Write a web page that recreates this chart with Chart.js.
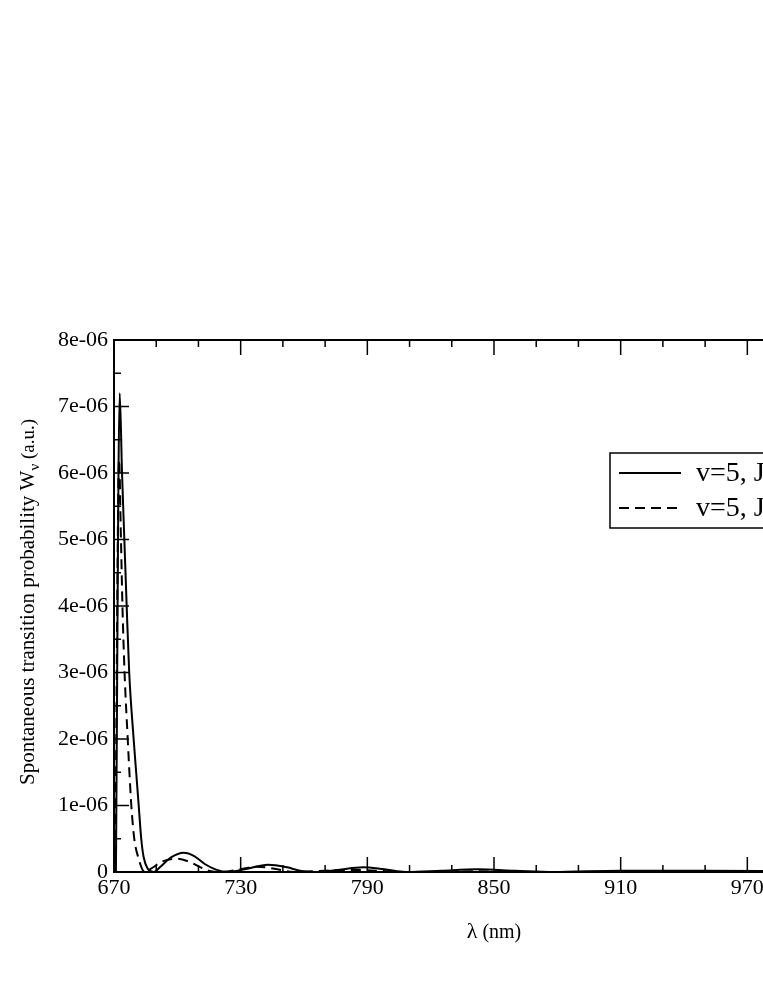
<!doctype html>
<html lang="en">
<head>
<meta charset="utf-8">
<title>Spontaneous transition probability</title>
<script src="https://cdn.jsdelivr.net/npm/chart.js@4.4.0/dist/chart.umd.min.js"></script>
<style>
  html, body { margin: 0; padding: 0; background: #fff; overflow: hidden; }
  canvas { display: block; }
</style>
</head>
<body>
<canvas id="c" width="960" height="987"></canvas>
<script>
// values (W in a.u.)
const lambdaSolid = [670.9, 672.7, 673.8, 674.9, 676.0, 677.2, 679.3, 680.5, 681.7, 682.9, 684.0, 686.0, 688.8,
  692, 697, 703, 708, 713, 718, 724, 732, 743, 752, 758, 765, 776, 788, 798, 809, 825, 842, 860, 878, 910, 950, 990, 1030];
const wSolid = [0, 7.2e-6, 6.0e-6, 5.0e-6, 4.0e-6, 3.0e-6, 2.0e-6, 1.5e-6, 1.0e-6, 0.5e-6, 0.23e-6, 0.05e-6, 0,
  0.08e-6, 0.22e-6, 0.29e-6, 0.24e-6, 0.12e-6, 0.04e-6, 0, 0.04e-6, 0.11e-6, 0.07e-6, 0.02e-6, 0, 0.03e-6, 0.07e-6, 0.04e-6, 0,
  0.02e-6, 0.04e-6, 0.02e-6, 0, 0.02e-6, 0.02e-6, 0.01e-6, 0];

const lambdaDashed = [670.6, 672.4, 673.3, 674.0, 675.0, 676.5, 677.3, 678.2, 679.6, 681.4, 684.5,
  688, 693, 700, 706, 711, 716, 720, 728, 738, 746, 755, 770, 785, 800, 815, 840, 870, 1030];
const wDashed = [0, 6.2e-6, 5.0e-6, 4.0e-6, 3.0e-6, 2.0e-6, 1.5e-6, 1.0e-6, 0.5e-6, 0.23e-6, 0,
  0.06e-6, 0.16e-6, 0.20e-6, 0.15e-6, 0.07e-6, 0.01e-6, 0, 0.03e-6, 0.08e-6, 0.05e-6, 0, 0.02e-6, 0.03e-6, 0.01e-6, 0, 0.01e-6, 0, 0];

const seriesLabels = ['v=5, J=0', 'v=5, J=1'];
const xTickValues = [670, 730, 790, 850, 910, 970, 1030];
const yTickValues = [0, 1e-6, 2e-6, 3e-6, 4e-6, 5e-6, 6e-6, 7e-6, 8e-6];
const xTitle = ['\u03bb', ' (nm)'];
const yTitle = ['Spontaneous transition probability W', '\u03bd', ' (a.u.)'];

const SERIF = '"Liberation Serif", "DejaVu Serif", serif';

function fmtExp(v) {
  if (v === 0) return '0';
  const parts = v.toExponential(0).split('e');
  const e = parseInt(parts[1], 10);
  return parts[0] + 'e' + (e < 0 ? '-' : '+') + String(Math.abs(e)).padStart(2, '0');
}

function pts(xs, ys) { return xs.map((x, i) => ({ x, y: ys[i] })); }

const frame = {
  id: 'frame',
  afterDraw(chart) {
    const { ctx, chartArea: a, scales: { x, y } } = chart;
    ctx.save();
    ctx.strokeStyle = '#000';
    ctx.fillStyle = '#000';

    // inward ticks on all four sides
    ctx.lineWidth = 1.5;
    const seg = (x1, y1, x2, y2) => { ctx.beginPath(); ctx.moveTo(x1, y1); ctx.lineTo(x2, y2); ctx.stroke(); };
    for (let v = 670; v <= 1030; v += 20) {
      const px = x.getPixelForValue(v);
      const len = (v - 670) % 60 === 0 ? 15 : 7;
      seg(px, a.bottom, px, a.bottom - len);
      seg(px, a.top, px, a.top + len);
    }
    for (let i = 0; i <= 16; i++) {
      const py = y.getPixelForValue(i * 0.5e-6);
      const len = i % 2 === 0 ? 15 : 7;
      seg(a.left, py, a.left + len, py);
      seg(a.right, py, a.right - len, py);
    }
    ctx.lineWidth = 2;
    ctx.strokeRect(a.left, a.top, a.right - a.left, a.bottom - a.top);

    // x title
    ctx.textBaseline = 'alphabetic';
    ctx.font = '22px ' + SERIF;
    const w1 = ctx.measureText(xTitle[0]).width;
    ctx.font = '20px ' + SERIF;
    const w2 = ctx.measureText(xTitle[1]).width;
    const cx = (a.left + a.right) / 2;
    let tx = cx - (w1 + w2) / 2;
    ctx.textAlign = 'left';
    ctx.font = '22px ' + SERIF;
    ctx.fillText(xTitle[0], tx, 938);
    ctx.font = '20px ' + SERIF;
    ctx.fillText(xTitle[1], tx + w1, 938);

    // y title, rotated
    ctx.save();
    ctx.translate(34, (a.top + a.bottom) / 2 - 4);
    ctx.rotate(-Math.PI / 2);
    ctx.font = '21px ' + SERIF;
    const m1 = ctx.measureText(yTitle[0]).width;
    ctx.font = '15px ' + SERIF;
    const m2 = ctx.measureText(yTitle[1]).width;
    ctx.font = '19px ' + SERIF;
    const m3 = ctx.measureText(yTitle[2]).width;
    let ty = -(m1 + m2 + m3) / 2;
    ctx.font = '21px ' + SERIF;
    ctx.fillText(yTitle[0], ty, 0);
    ctx.font = '15px ' + SERIF;
    ctx.fillText(yTitle[1], ty + m1, 5);
    ctx.font = '19px ' + SERIF;
    ctx.fillText(yTitle[2], ty + m1 + m2, 0);
    ctx.restore();

    // legend
    const lx = 610, ly = 453, lw = 250, lh = 75;
    ctx.fillStyle = '#fff';
    ctx.fillRect(lx, ly, lw, lh);
    ctx.lineWidth = 1.5;
    ctx.strokeRect(lx, ly, lw, lh);
    ctx.fillStyle = '#000';
    ctx.font = '28px ' + SERIF;
    ctx.textBaseline = 'middle';
    chart.data.datasets.forEach((ds, i) => {
      const rowY = ly + 20 + i * 35;
      ctx.lineWidth = 2;
      ctx.setLineDash(ds.borderDash || []);
      seg(619, rowY, 681, rowY);
      ctx.setLineDash([]);
      ctx.fillText(ds.label, 696, rowY + 1);
    });
    ctx.restore();
  }
};

new Chart(document.getElementById('c'), {
  type: 'line',
  data: {
    datasets: [
      { label: seriesLabels[0], data: pts(lambdaSolid, wSolid), borderColor: '#000', borderWidth: 2,
        pointRadius: 0, cubicInterpolationMode: 'monotone', fill: false },
      { label: seriesLabels[1], data: pts(lambdaDashed, wDashed), borderColor: '#000', borderWidth: 2,
        borderDash: [10, 6], pointRadius: 0, cubicInterpolationMode: 'monotone', fill: false },
    ]
  },
  options: {
    responsive: false,
    animation: false,
    layout: { padding: { left: 0, top: 340, right: 960 - 874, bottom: 0 } },
    plugins: { legend: { display: false }, tooltip: { enabled: false }, title: { display: false } },
    scales: {
      x: {
        type: 'linear', min: 670, max: 1030,
        grid: { display: false, drawTicks: false },
        border: { display: false },
        afterBuildTicks: s => { s.ticks = xTickValues.map(v => ({ value: v })); },
        afterFit: s => { s.height = 987 - 872; },
        ticks: { color: '#000', padding: 3, maxRotation: 0, autoSkip: false,
                 font: { family: SERIF, size: 22 }, callback: v => String(v) }
      },
      y: {
        type: 'linear', min: 0, max: 8e-6,
        grid: { display: false, drawTicks: false },
        border: { display: false },
        afterBuildTicks: s => { s.ticks = yTickValues.map(v => ({ value: v })); },
        afterFit: s => { s.width = 114; },
        ticks: { color: '#000', padding: 6, autoSkip: false,
                 font: { family: SERIF, size: 22 }, callback: v => fmtExp(v) }
      }
    }
  },
  plugins: [frame]
});
</script>
</body>
</html>
